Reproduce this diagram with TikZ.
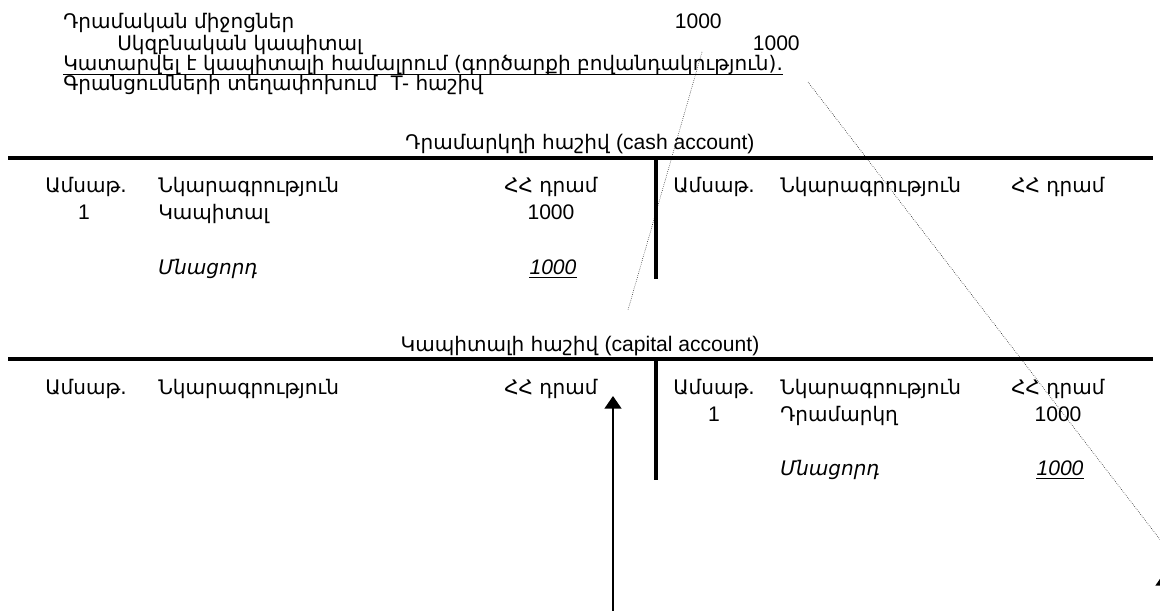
\documentclass[tikz,border=0pt]{standalone}
\usepackage{fontspec}
\setmainfont{DejaVu Sans}[Scale=0.95]
\newfontfamily\latfont{Liberation Sans}
\usetikzlibrary{arrows.meta}

\begin{document}
\begin{tikzpicture}[
    x=0.025cm, y=-0.025cm,
    font=\fontsize{15}{18}\selectfont,
    txt/.style={inner sep=0pt, anchor=base west},
    num/.style={inner sep=0pt, anchor=base, font=\fontsize{15}{18}\selectfont\latfont},
    regua/.style={line width=2.3pt},
    sublinha/.style={line width=0.8pt},
    guia/.style={densely dotted, line width=0.4pt},
    seta/.style={-{Triangle[width=12pt,length=9pt]}, line width=1.3pt}
]
\useasboundingbox (0,0) rectangle (1160,611);

\node[txt] (fundos) at (63,29) {Դրամական միջոցներ};
\node[num, anchor=base east] (fundosval) at (722,29) {1000};
\node[txt] (inicial) at (117,51) {Սկզբնական կապիտալ};
\node[num, anchor=base east] (inicialval) at (800,51) {1000};
\node[txt] (memo) at (63,71) {Կատարվել է կապիտալի համալրում (գործարքի բովանդակություն).};
\draw[sublinha] ([yshift=-2.4pt]memo.base west) -- ([yshift=-2.4pt]memo.base east);
\node[txt] (lanc) at (63,91) {Գրանցումների տեղափոխում\ \ {\latfont T-} հաշիվ};

% cash account
\node[inner sep=0pt, anchor=base] (caixa) at (580,150) {Դրամարկղի հաշիվ {\latfont (cash account)}};
\draw[regua] (8,158) -- (1153,158);
\draw[regua] (656,158) -- (656,279);
\node[txt] (cxdataE) at (45,193) {Ամսաթ.};
\node[txt] (cxdescE) at (158,193) {Նկարագրություն};
\node[inner sep=0pt, anchor=base] (cxvalE) at (551,193) {ՀՀ դրամ};
\node[txt] (cxdataD) at (673,193) {Ամսաթ.};
\node[txt] (cxdescD) at (780,193) {Նկարագրություն};
\node[inner sep=0pt, anchor=base] (cxvalD) at (1058,193) {ՀՀ դրամ};
\node[num] (cxnum) at (84,220) {1};
\node[txt] (cxitem) at (158,220) {Կապիտալ};
\node[num] (cxitemval) at (551,220) {1000};
\node[txt] (cxsaldo) at (158,274) {\itshape Մնացորդ};
\node[num] (cxsaldoval) at (553,274) {\itshape 1000};
\draw[sublinha] ([yshift=-2.4pt]cxsaldoval.base west) -- ([yshift=-2.4pt]cxsaldoval.base east);

% capital account
\node[inner sep=0pt, anchor=base] (capital) at (580,351) {Կապիտալի հաշիվ {\latfont (capital account)}};
\draw[regua] (8,359) -- (1153,359);
\draw[regua] (656,359) -- (656,480);
\node[txt] (cpdataE) at (45,394) {Ամսաթ.};
\node[txt] (cpdescE) at (158,394) {Նկարագրություն};
\node[inner sep=0pt, anchor=base] (cpvalE) at (551,394) {ՀՀ դրամ};
\node[txt] (cpdataD) at (673,394) {Ամսաթ.};
\node[txt] (cpdescD) at (780,394) {Նկարագրություն};
\node[inner sep=0pt, anchor=base] (cpvalD) at (1058,394) {ՀՀ դրամ};
\node[num] (cpnum) at (714,421) {1};
\node[txt] (cpitem) at (780,421) {Դրամարկղ};
\node[num] (cpitemval) at (1058,421) {1000};
\node[txt] (cpsaldo) at (780,475) {\itshape Մնացորդ};
\node[num] (cpsaldoval) at (1060,475) {\itshape 1000};
\draw[sublinha] ([yshift=-2.4pt]cpsaldoval.base west) -- ([yshift=-2.4pt]cpsaldoval.base east);

\coordinate (g1a) at (702,52);
\coordinate (g1b) at (628,310);
\coordinate (g2a) at (808,82);
\coordinate (g2b) at (1215,611);
\draw[guia] (g1a) -- (g1b);
\draw[guia] (g2a) -- (g2b);

\coordinate (s1a) at (613,615);
\coordinate (s1b) at (613,396);
\coordinate (s2a) at (1164,615);
\coordinate (s2b) at (1164,573);
\draw[seta] (s1a) -- (s1b);
\draw[seta] (s2a) -- (s2b);
\end{tikzpicture}
\end{document}
